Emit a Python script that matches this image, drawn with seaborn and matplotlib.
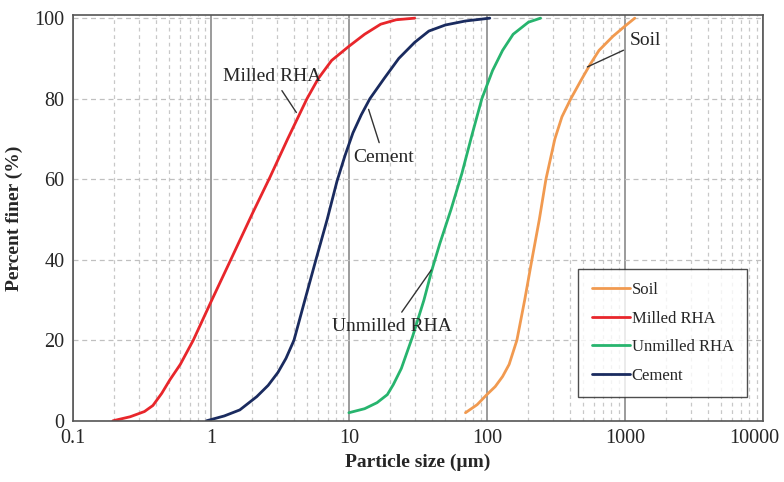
import numpy as np
import pandas as pd
import matplotlib
matplotlib.use('Agg')
import matplotlib.pyplot as plt
import matplotlib.transforms as mtransforms
import seaborn as sns
from matplotlib.ticker import FixedLocator, FixedFormatter, NullFormatter

# Kornverteilungen (Partikelgroesse in um, Durchgang in %)
soil_x = [70, 85, 100, 115, 130, 145, 165, 188, 212, 240, 268, 311, 350, 406, 480, 560, 650, 820, 1000, 1180]
soil_y = [2, 4, 6.5, 8.5, 11, 14, 20, 30, 40, 50, 60, 70, 75.5, 80, 84.5, 88.5, 92, 95.5, 98, 100]

milled_x = [0.195, 0.26, 0.33, 0.38, 0.44, 0.505, 0.6, 0.745, 1.0, 1.35, 2.0, 2.68, 3.6, 4.97, 6, 7.5, 10, 13, 17, 22, 30]
milled_y = [0, 1, 2.3, 3.8, 6.8, 10.2, 14, 20, 29.5, 39, 51.5, 60.5, 70, 80, 85, 89.5, 93, 96, 98.5, 99.6, 100]

unmilled_x = [10, 13, 16, 19, 21, 24, 29, 35, 40, 45.6, 55, 66, 78, 92, 110, 130, 155, 200, 245]
unmilled_y = [2, 3, 4.5, 6.5, 9, 13, 21, 30, 37.5, 44, 52.5, 61.5, 71, 80, 87, 92, 96, 99, 100]

cement_x = [0.93, 1.25, 1.62, 2.15, 2.6, 3.06, 3.5, 4.0, 4.8, 5.77, 6.96, 8.2, 9.4, 10.7, 12.3, 14.2, 18, 23, 30, 38, 50, 70, 105]
cement_y = [0, 1.2, 2.7, 6, 8.8, 12, 15.5, 20, 30, 40, 50, 59.5, 66, 71.5, 76, 80, 85, 90, 94, 96.8, 98.3, 99.3, 100]

series = ['Soil', 'Milled RHA', 'Unmilled RHA', 'Cement']
farben = ['#F19A50', '#E8262B', '#27B46E', '#1A2B5F']

df = pd.concat([
    pd.DataFrame({'x': soil_x, 'y': soil_y, 'Probe': 'Soil'}),
    pd.DataFrame({'x': milled_x, 'y': milled_y, 'Probe': 'Milled RHA'}),
    pd.DataFrame({'x': unmilled_x, 'y': unmilled_y, 'Probe': 'Unmilled RHA'}),
    pd.DataFrame({'x': cement_x, 'y': cement_y, 'Probe': 'Cement'}),
], ignore_index=True)

x_ticks = [0.1, 1, 10, 100, 1000, 10000]
x_ticklabels = ['0.1', '1', '10', '100', '1000', '10000']
y_ticks = [0, 20, 40, 60, 80, 100]

sns.set_style('white')
plt.rcParams['font.family'] = ['Liberation Serif', 'DejaVu Serif']

fig = plt.figure(figsize=(7.84, 4.82), dpi=100)
ax = fig.add_axes([0.093, 0.127, 0.880, 0.842])

sns.lineplot(data=df, x='x', y='y', hue='Probe', hue_order=series,
             palette=farben, sort=False, estimator=None, linewidth=2, ax=ax)

ax.set_xscale('log')
ax.set_xlim(0.1, 10000)
ax.set_ylim(0, 100.8)

ax.xaxis.set_major_locator(FixedLocator(x_ticks))
ax.xaxis.set_major_formatter(FixedFormatter(x_ticklabels))
minor = [m * 10.0 ** e for e in range(-1, 4) for m in range(2, 10)]
ax.xaxis.set_minor_locator(FixedLocator(minor))
ax.xaxis.set_minor_formatter(NullFormatter())
ax.set_yticks(y_ticks)

# Gitter: Dekaden durchgezogen, Rest gestrichelt
ax.grid(which='major', axis='x', color='#8a8a8a', linestyle='-', linewidth=1.2)
ax.grid(which='minor', axis='x', color='#c8c8c8', linestyle=(0, (3, 3)), linewidth=0.9)
ax.grid(which='major', axis='y', color='#c0c0c0', linestyle=(0, (4, 3)), linewidth=0.9)
ax.set_axisbelow(True)

for s in ax.spines.values():
    s.set_color('#555555')
    s.set_linewidth(1.2)

ax.tick_params(axis='both', which='both', length=0, labelsize=14.5, pad=6)
ax.set_xlabel('Particle size (µm)', fontsize=14, fontweight='bold', labelpad=4)
ax.set_ylabel('Percent finer (%)', fontsize=14, fontweight='bold', labelpad=8)

# letzte Beschriftung etwas nach links, damit sie nicht abgeschnitten wird
fig.canvas.draw()
last = ax.get_xticklabels()[-1]
last.set_transform(last.get_transform() + mtransforms.ScaledTranslation(-0.09, 0, fig.dpi_scale_trans))

# Beschriftungen an den Kurven
pfeil = dict(arrowstyle='-', color='#333333', linewidth=1)
ax.annotate('Milled RHA', xy=(4.27, 76), xytext=(2.8, 85.5), fontsize=14,
            ha='center', va='center', arrowprops=pfeil)
ax.annotate('Cement', xy=(13.7, 78), xytext=(17.9, 65.5), fontsize=14,
            ha='center', va='center', arrowprops=pfeil)
ax.annotate('Unmilled RHA', xy=(40.6, 38), xytext=(20.5, 23.5), fontsize=14,
            ha='center', va='center', arrowprops=pfeil)
ax.annotate('Soil', xy=(513, 87.6), xytext=(1400, 94.5), fontsize=14,
            ha='center', va='center', arrowprops=pfeil)

leg = ax.legend(loc='lower right', bbox_to_anchor=(0.977, 0.059), fontsize=12,
                frameon=True, fancybox=False, edgecolor='#222222',
                handlelength=2.3, handletextpad=0.1, labelspacing=0.75,
                borderpad=0.8, borderaxespad=0, title=None)
leg.get_frame().set_linewidth(1.0)
for line in leg.get_lines():
    line.set_linewidth(2)

plt.savefig('out.png', dpi=100)
plt.close()
